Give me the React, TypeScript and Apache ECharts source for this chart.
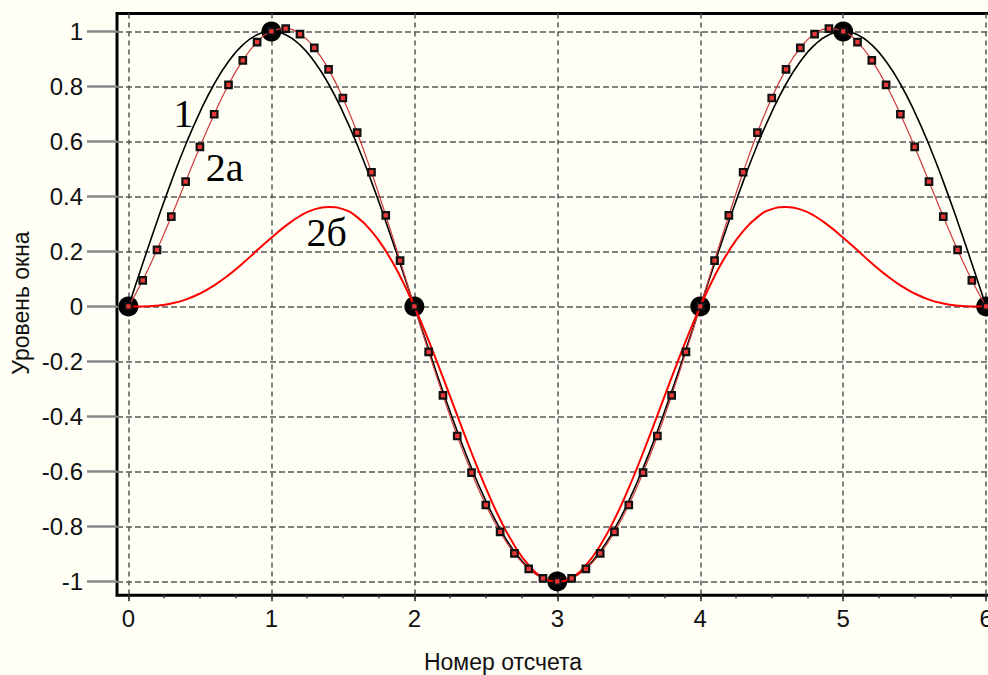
import { useEffect, useRef } from "react";
import * as echarts from "echarts";

// Sample positions along the x axis (step 0.1)
const xs = [
  0, 0.1, 0.2, 0.3, 0.4, 0.5, 0.6, 0.7, 0.8, 0.9,
  1, 1.1, 1.2, 1.3, 1.4, 1.5, 1.6, 1.7, 1.8, 1.9,
  2, 2.1, 2.2, 2.3, 2.4, 2.5, 2.6, 2.7, 2.8, 2.9,
  3, 3.1, 3.2, 3.3, 3.4, 3.5, 3.6, 3.7, 3.8, 3.9,
  4, 4.1, 4.2, 4.3, 4.4, 4.5, 4.6, 4.7, 4.8, 4.9,
  5, 5.1, 5.2, 5.3, 5.4, 5.5, 5.6, 5.7, 5.8, 5.9,
  6,
];

// Curve 1 – the original continuous signal
const curve1 = [
  0, 0.156, 0.309, 0.454, 0.588, 0.707, 0.809, 0.891, 0.951, 0.988,
  1, 0.988, 0.951, 0.891, 0.809, 0.707, 0.588, 0.454, 0.309, 0.156,
  0, -0.156, -0.309, -0.454, -0.588, -0.707, -0.809, -0.891, -0.951, -0.988,
  -1, -0.988, -0.951, -0.891, -0.809, -0.707, -0.588, -0.454, -0.309, -0.156,
  0, 0.156, 0.309, 0.454, 0.588, 0.707, 0.809, 0.891, 0.951, 0.988,
  1, 0.988, 0.951, 0.891, 0.809, 0.707, 0.588, 0.454, 0.309, 0.156,
  0,
];

// Curve 2a – reconstruction with markers
const curve2a = [
  0, 0.095, 0.206, 0.327, 0.454, 0.58, 0.699, 0.806, 0.895, 0.961,
  1, 1.01, 0.99, 0.94, 0.862, 0.758, 0.632, 0.488, 0.331, 0.167,
  0, -0.165, -0.323, -0.471, -0.604, -0.722, -0.82, -0.898, -0.954, -0.989,
  -1, -0.989, -0.954, -0.898, -0.82, -0.722, -0.604, -0.471, -0.323, -0.165,
  0, 0.167, 0.331, 0.488, 0.632, 0.758, 0.862, 0.94, 0.99, 1.01,
  1, 0.961, 0.895, 0.806, 0.699, 0.58, 0.454, 0.327, 0.206, 0.095,
  0,
];

// Curve 2б – windowed reconstruction
const curve2b = [
  0, 0.0, 0.003, 0.011, 0.025, 0.047, 0.077, 0.114, 0.157, 0.204,
  0.25, 0.293, 0.329, 0.353, 0.362, 0.354, 0.325, 0.274, 0.202, 0.11,
  0, -0.124, -0.258, -0.396, -0.532, -0.66, -0.774, -0.869, -0.941, -0.985,
  -1, -0.985, -0.941, -0.869, -0.774, -0.66, -0.532, -0.396, -0.258, -0.124,
  0, 0.11, 0.202, 0.274, 0.325, 0.354, 0.362, 0.353, 0.329, 0.293,
  0.25, 0.204, 0.157, 0.114, 0.077, 0.047, 0.025, 0.011, 0.003, 0.0,
  0,
];

// Discrete samples (large dots)
const sampleX = [0, 1, 2, 3, 4, 5, 6];
const sampleY = [0, 1, 0, -1, 0, 1, 0];

// Axis ticks
const xTicks = [0, 1, 2, 3, 4, 5, 6];
const xMinorTicks = [
  0, 0.25, 0.5, 0.75, 1, 1.25, 1.5, 1.75, 2, 2.25, 2.5, 2.75, 3,
  3.25, 3.5, 3.75, 4, 4.25, 4.5, 4.75, 5, 5.25, 5.5, 5.75, 6,
];
const yTicks = [-1, -0.8, -0.6, -0.4, -0.2, 0, 0.2, 0.4, 0.6, 0.8, 1];

// Curve tags, anchored in data coordinates
const tagText = ["1", "2a", "2б"];
const tagX = [0.386, 0.673, 1.387];
const tagY = [0.7, 0.505, 0.269];

const xTitle = "Номер отсчета";
const yTitle = "Уровень окна";

const SANS = '"Liberation Sans", Arial, Helvetica, sans-serif';
const SERIF = '"Liberation Serif", "Times New Roman", serif';

const toPairs = (ys: number[]) => xs.map((x, i) => [x, ys[i]]);

export default function App() {
  const ref = useRef<HTMLDivElement>(null);

  useEffect(() => {
    if (!ref.current) return;
    const chart = echarts.init(ref.current, undefined, { renderer: "svg" });

    const X_MIN = -0.08;
    const X_MAX = 6.08;

    const option: any = {
      animation: false,
      backgroundColor: "#fffff5",
      grid: {
        left: 117,
        top: 13.6,
        width: 880.6,
        height: 581.6,
        show: true,
        borderColor: "#000",
        borderWidth: 3,
        backgroundColor: "transparent",
        containLabel: false,
        outerBoundsMode: "none",
      },
      xAxis: [
        {
          type: "value",
          min: X_MIN,
          max: X_MAX,
          axisLine: { show: false, onZero: false },
          axisTick: {
            show: true,
            customValues: xTicks,
            length: 6,
            lineStyle: { color: "#222", width: 1.5 },
          },
          axisLabel: {
            customValues: xTicks,
            margin: 11,
            fontSize: 24,
            color: "#111",
            fontFamily: SANS,
            hideOverlap: false,
          },
          splitLine: {
            show: true,
            lineStyle: { color: "#555", width: 1.5, type: [5, 4] },
          },
        },
        {
          type: "value",
          min: X_MIN,
          max: X_MAX,
          position: "bottom",
          axisLine: { show: false, onZero: false },
          axisTick: {
            show: true,
            customValues: xMinorTicks,
            length: 3,
            lineStyle: { color: "#333", width: 1.5 },
          },
          axisLabel: { show: false },
          splitLine: { show: false },
        },
      ],
      yAxis: {
        type: "value",
        min: -1.05,
        max: 1.065,
        axisLine: { show: false, onZero: false },
        axisTick: {
          show: true,
          customValues: yTicks,
          length: 30,
          lineStyle: { color: "#888", width: 2.5 },
        },
        axisLabel: {
          customValues: yTicks,
          margin: 34,
          fontSize: 24,
          color: "#111",
          fontFamily: SANS,
          formatter: (v: number) => String(v),
        },
        splitLine: {
          show: true,
          lineStyle: { color: "#808080", width: 2, type: [6, 3] },
        },
      },
      series: [
        {
          name: "samples",
          type: "scatter",
          data: sampleX.map((x, i) => [x, sampleY[i]]),
          symbol: "circle",
          symbolSize: 20,
          itemStyle: { color: "#000", opacity: 1 },
          silent: true,
        },
        {
          name: "1",
          type: "line",
          data: toPairs(curve1),
          smooth: true,
          showSymbol: false,
          lineStyle: { color: "#000", width: 1.6 },
          silent: true,
        },
        {
          name: "2a",
          type: "line",
          data: toPairs(curve2a),
          smooth: true,
          symbol: "rect",
          symbolSize: 6.5,
          showSymbol: true,
          lineStyle: { color: "#cc3a3a", width: 1.2 },
          itemStyle: { color: "#e83838", borderColor: "#111", borderWidth: 2.2 },
          silent: true,
        },
        {
          name: "2б",
          type: "line",
          data: toPairs(curve2b),
          smooth: true,
          showSymbol: false,
          lineStyle: { color: "#ff0000", width: 2 },
          silent: true,
        },
        {
          name: "tags",
          type: "scatter",
          data: tagX.map((x, i) => [x, tagY[i], tagText[i]]),
          symbolSize: 1,
          itemStyle: { color: "transparent", opacity: 1 },
          label: {
            show: true,
            position: "inside",
            formatter: (p: any) => p.data[2],
            fontFamily: SERIF,
            fontSize: 40,
            color: "#000",
            opacity: 1,
            textBorderWidth: 0,
          },
          silent: true,
        },
      ],
      graphic: [
        {
          type: "text",
          x: 503,
          y: 661.5,
          style: {
            text: xTitle,
            font: `23px ${SANS}`,
            fill: "#111",
            align: "center",
            verticalAlign: "middle",
          },
        },
        {
          type: "text",
          x: 21,
          y: 303,
          rotation: Math.PI / 2,
          style: {
            text: yTitle,
            font: `23px ${SANS}`,
            fill: "#111",
            align: "center",
            verticalAlign: "middle",
          },
        },
      ],
    };

    chart.setOption(option);
    return () => chart.dispose();
  }, []);

  return (
    <div
      ref={ref}
      style={{ position: "fixed", left: 0, top: 0, width: 988, height: 675, background: "#fffff5" }}
    />
  );
}
